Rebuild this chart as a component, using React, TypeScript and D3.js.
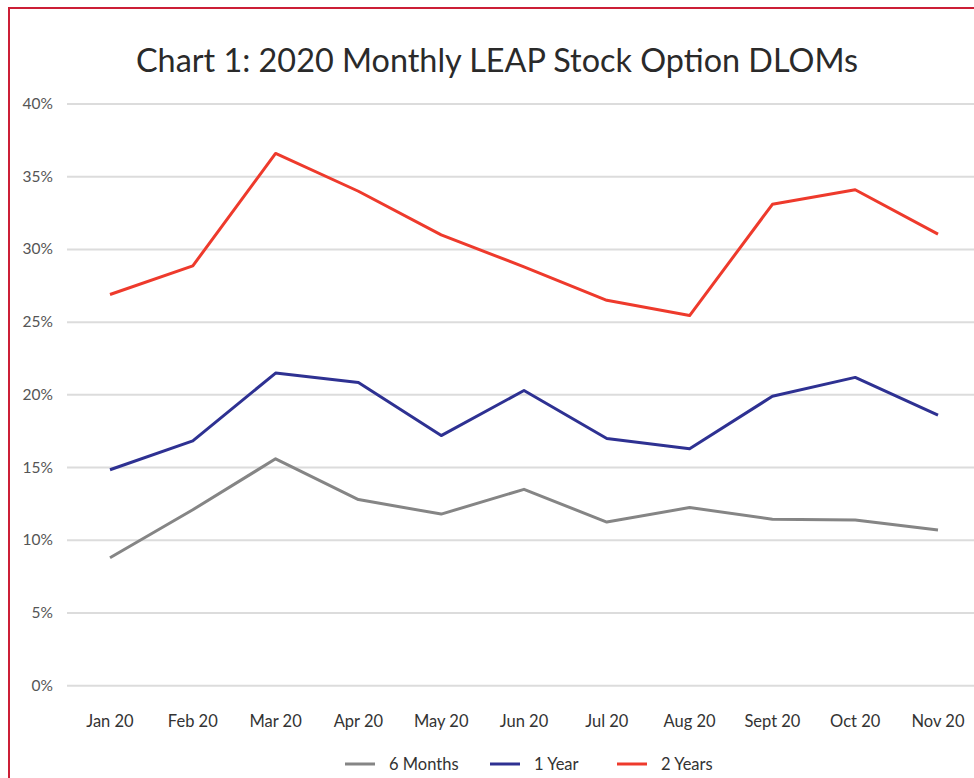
import React from 'react'
import * as d3 from 'd3'

const months = ['Jan 20', 'Feb 20', 'Mar 20', 'Apr 20', 'May 20', 'Jun 20', 'Jul 20', 'Aug 20', 'Sept 20', 'Oct 20', 'Nov 20']
const sixMonths = [8.8, 12.1, 15.6, 12.8, 11.8, 13.5, 11.25, 12.25, 11.45, 11.4, 10.7]
const oneYear = [14.85, 16.84, 21.5, 20.85, 17.2, 20.3, 17.0, 16.3, 19.9, 21.2, 18.6]
const twoYears = [26.9, 28.87, 36.6, 34.0, 31.0, 28.8, 26.5, 25.45, 33.1, 34.1, 31.05]
const yTicks = [0, 5, 10, 15, 20, 25, 30, 35, 40]

const series = [
  { name: '6 Months', values: sixMonths, color: '#858585' },
  { name: '1 Year', values: oneYear, color: '#2e3192' },
  { name: '2 Years', values: twoYears, color: '#ee3a2c' },
]

const W = 974
const H = 778
const font = 'Lato, "Open Sans", sans-serif'

export default function App() {
  const x = d3.scalePoint<string>().domain(months).range([110, 938])
  const y = d3.scaleLinear().domain([0, 40]).range([685.7, 104])

  const line = d3.line<number>()
    .x((d, i) => x(months[i]) as number)
    .y(d => y(d))

  const legendX = [345, 490, 617]

  return (
    <svg width={W} height={H} style={{ position: 'absolute', left: 0, top: 0, background: '#fff' }} fontFamily={font}>
      <rect x={9} y={8} width={W + 20} height={H + 20} fill="none" stroke="#cc1f36" strokeWidth={2} />
      <text x={497} y={72} textAnchor="middle" fontSize={32.5} fill="#2a2a2a" textLength={722} lengthAdjust="spacingAndGlyphs">
        Chart 1: 2020 Monthly LEAP Stock Option DLOMs
      </text>

      {yTicks.map(t => (
        <g key={t}>
          <line x1={67} x2={W} y1={y(t)} y2={y(t)} stroke="#dcdcdc" strokeWidth={2} />
          <text x={53} y={y(t) + 5} textAnchor="end" fontSize={15.5} fill="#555">{t}%</text>
        </g>
      ))}

      {months.map(m => (
        <text key={m} x={x(m)} y={727} textAnchor="middle" fontSize={16.5} fill="#333">{m}</text>
      ))}

      {series.map(s => (
        <path key={s.name} d={line(s.values) || ''} fill="none" stroke={s.color} strokeWidth={3} strokeLinejoin="round" />
      ))}

      {series.map((s, i) => (
        <g key={s.name} transform={`translate(${legendX[i]}, 764)`}>
          <line x1={0} x2={30} y1={0} y2={0} stroke={s.color} strokeWidth={3} />
          <text x={44} y={5.5} fontSize={16.5} fill="#333">{s.name}</text>
        </g>
      ))}
    </svg>
  )
}
